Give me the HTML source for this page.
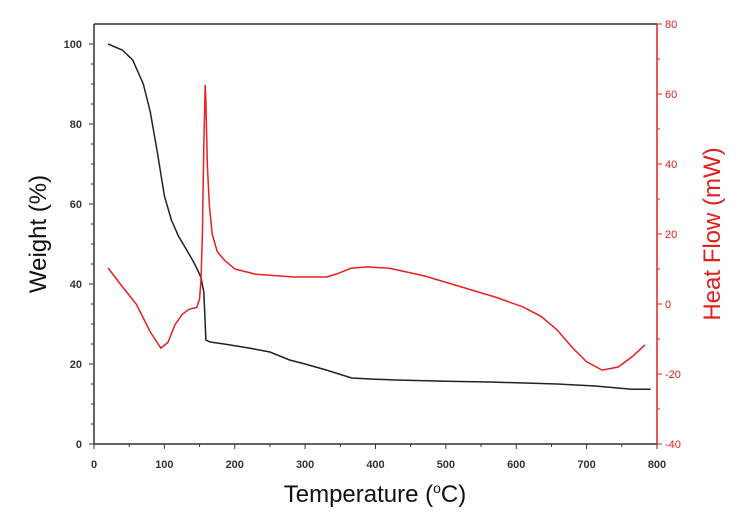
<!DOCTYPE html>
<html><head><meta charset="utf-8"><style>
body{margin:0;background:#fff;}
svg{display:block;font-family:"Liberation Sans",sans-serif;}
</style></head><body>
<svg id="chart" width="745" height="523"></svg>
<script>
const xTicks=[0,100,200,300,400,500,600,700,800];
const wTicks=[0,20,40,60,80,100];
const hTicks=[-40,-20,0,20,40,60,80];
const wT=[20,40,55,70,80,90,100,110,120,130,140,146,152,156,159,165,185,220,250,278,300,330,366,400,428,500,562,600,658,712,764,791];
const wV=[100,98.5,96,90,83,73,62,56,52,49,46,44,41.6,38,26,25.5,25,24,23,21,20,18.5,16.5,16.2,16,15.7,15.5,15.3,15,14.5,13.7,13.7];
const hT=[20,40,60,80,95,105,115,125,135,146,150,152,154,156,158,159,161,164,168,175,185,200,230,284,331,345,365,388,420,470,520,570,610,635,658,680,700,722,745,765,783];
const hV=[10.3,5,0,-8,-12.6,-11,-6,-3,-1.5,-1,1.5,6.9,20,45,62.6,58,40,28,20,15,12.6,10,8.5,7.7,7.7,8.6,10.2,10.6,10.2,8,5,2,-0.9,-3.5,-7.4,-12.5,-16.5,-18.9,-18,-15,-11.7];
const L=94,R=657,T=24,B=444;
const x=v=>L+(v-0)/800*(R-L);
const yw=v=>B-(v/105)*(B-T);
const yh=v=>B-((v+40)/120)*(B-T);
const svg=document.getElementById('chart');
const NS='http://www.w3.org/2000/svg';
function mk(tag,attrs,text){const e=document.createElementNS(NS,tag);for(const k in attrs)e.setAttribute(k,attrs[k]);if(text!==undefined)e.textContent=text;svg.appendChild(e);return e;}
let e;
e=mk('line',{x1:L,y1:T,x2:R,y2:T,stroke:'#333','stroke-width':1.5});


e=mk('line',{x1:L,y1:T,x2:L,y2:B,stroke:'#333','stroke-width':1.5});


e=mk('line',{x1:L,y1:B,x2:R,y2:B,stroke:'#333','stroke-width':1.5});


e=mk('line',{x1:R,y1:T,x2:R,y2:B,stroke:'#e02020','stroke-width':1.5});


xTicks.forEach((t,i)=>{
  mk('line',{x1:x(t),y1:B,x2:x(t),y2:B+5,stroke:'#333'});
  if(i<xTicks.length-1)mk('line',{x1:x(t+50),y1:B,x2:x(t+50),y2:B+3,stroke:'#333'});
  e=mk('text',{x:x(t),y:B+24,'text-anchor':'middle','font-size':11,'font-weight':'bold',fill:'#333'},t);
  
  
});
wTicks.forEach((t,i)=>{
  mk('line',{x1:L-5,y1:yw(t),x2:L,y2:yw(t),stroke:'#333'});
  for(let k=1;k<4&&i<wTicks.length-1;k++)mk('line',{x1:L-3,y1:yw(t+k*5),x2:L,y2:yw(t+k*5),stroke:'#333'});
  e=mk('text',{x:L-12,y:yw(t)+4,'text-anchor':'end','font-size':11,'font-weight':'bold',fill:'#333'},t);
  
  
});
hTicks.forEach((t,i)=>{
  mk('line',{x1:R,y1:yh(t),x2:R+5,y2:yh(t),stroke:'#e02020'});
  if(i<hTicks.length-1)mk('line',{x1:R,y1:yh(t+10),x2:R+3,y2:yh(t+10),stroke:'#e02020'});
  e=mk('text',{x:R+8,y:yh(t)+4,'font-size':11,fill:'#e02020'},t);
  
  
});
e=mk('path',{d:wT.map((t,i)=>(i?'L':'M')+x(t).toFixed(1)+','+yw(wV[i]).toFixed(1)).join(''),fill:'none',stroke:'#222','stroke-width':1.5});


e=mk('path',{d:hT.map((t,i)=>(i?'L':'M')+x(t).toFixed(1)+','+yh(hV[i]).toFixed(1)).join(''),fill:'none',stroke:'#e82020','stroke-width':1.5});


e=mk('text',{x:375,y:502,'text-anchor':'middle','font-size':24,fill:'#111'},'Temperature (');


e.innerHTML='Temperature (<tspan dy="-9" font-size="14">o</tspan><tspan dy="9">C)</tspan>';
e=mk('text',{x:0,y:0,'text-anchor':'middle','font-size':24,fill:'#111',transform:'translate(46,234) rotate(-90)'},'Weight (%)');


e=mk('text',{x:0,y:0,'text-anchor':'middle','font-size':24,fill:'#e02020',transform:'translate(720,234) rotate(-90)'},'Heat Flow (mW)');


</script>
</body></html>
